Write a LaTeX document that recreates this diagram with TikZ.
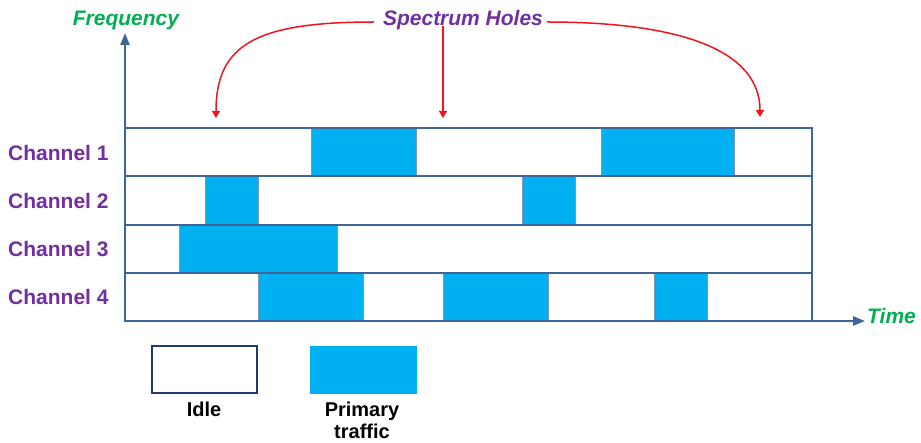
\documentclass[tikz,border=0pt]{standalone}
\usepackage{fontspec}
\setmainfont{Liberation Sans}
\usetikzlibrary{arrows.meta}
\definecolor{axisblue}{HTML}{3F6496}
\definecolor{cellline}{HTML}{7F98BA}
\definecolor{busy}{HTML}{00B0F0}
\definecolor{chanpurple}{HTML}{7030A0}
\definecolor{axisgreen}{HTML}{00B050}
\definecolor{holered}{HTML}{F0141E}
\definecolor{idleborder}{HTML}{1F3A6E}
\tikzset{
  axisline/.style={draw=axisblue, line width=2.4pt, -{Triangle[length=12pt,width=9pt]}},
  rowbox/.style={draw=axisblue, line width=2pt, fill=white},
  busybox/.style={fill=busy, draw=cellline, line width=1pt},
  chanlabel/.style={anchor=west, inner sep=0pt, text=chanpurple, font=\fontsize{21}{22}\selectfont\bfseries},
  axislabel/.style={inner sep=0pt, text=axisgreen, font=\fontsize{21}{22}\selectfont\bfseries\itshape},
  holelabel/.style={inner sep=0pt, text=chanpurple, font=\fontsize{21}{22}\selectfont\bfseries\itshape},
  legendtext/.style={inner sep=0pt, align=center, font=\fontsize{20}{21.5}\selectfont\bfseries},
  holearrow/.style={draw=holered, line width=1.5pt, -{Triangle[length=7pt,width=8pt]}}
}
\begin{document}
\begin{tikzpicture}[x=1pt, y=-1pt]
  \useasboundingbox (0,0) rectangle (921,443);

  % channel rows
  \foreach \top/\bot in {128/176.5, 176.5/225, 225/273, 273/321}
    \draw[rowbox] (125,\top) rectangle (812,\bot);

  % occupied intervals
  \draw[busybox] (311,128) rectangle (416,176.5);
  \draw[busybox] (601,128) rectangle (734,176.5);
  \draw[busybox] (205,176.5) rectangle (258,225);
  \draw[busybox] (522,176.5) rectangle (575,225);
  \draw[busybox] (179,225) rectangle (337,273);
  \draw[busybox] (258,273) rectangle (363,321);
  \draw[busybox] (443,273) rectangle (548,321);
  \draw[busybox] (654,273) rectangle (707,321);

  % re-stroke the row outlines over the fills
  \foreach \top/\bot in {128/176.5, 176.5/225, 225/273, 273/321}
    \draw[draw=axisblue, line width=2pt] (125,\top) rectangle (812,\bot);

  % axes
  \coordinate (origin) at (125,321);
  \coordinate (ftip) at (125,33);
  \coordinate (ttip) at (865,321);
  \draw[axisline] (origin) -- (ftip);
  \draw[axisline] (origin) -- (ttip);

  \node[axislabel] (freq) at (126,20) {Frequency};
  \node[axislabel, anchor=west] (time) at (867,316) {Time};

  % channel names
  \node[chanlabel] (ch1) at (8,153) {Channel 1};
  \node[chanlabel] (ch2) at (8,201) {Channel 2};
  \node[chanlabel] (ch3) at (8,249) {Channel 3};
  \node[chanlabel] (ch4) at (8,297) {Channel 4};

  % spectrum holes callout
  \node[holelabel] (holes) at (463,20) {Spectrum Holes};
  \coordinate (holeA) at (216,118);
  \coordinate (holeB) at (443,118);
  \coordinate (holeC) at (760,117);
  \draw[holearrow] ([xshift=-9pt,yshift=-2pt]holes.west) .. controls (255,22) and (216,45) .. (holeA);
  \draw[holearrow] (holeB |- holes.south) ++(0,-4) -- (holeB);
  \draw[holearrow] ([xshift=4pt,yshift=-2pt]holes.east) .. controls (680,22) and (760,50) .. (holeC);

  % legend
  \node[draw=idleborder, line width=2pt, fill=white, minimum width=105pt, minimum height=47pt, inner sep=0pt] (idlekey) at (204.5,370) {};
  \node[fill=busy, minimum width=107pt, minimum height=48pt, inner sep=0pt] (busykey) at (363.5,370) {};
  \node[legendtext, anchor=north] (idletext) at (204,402) {Idle};
  \node[legendtext, anchor=north] (busytext) at (362,402) {Primary\\traffic};
\end{tikzpicture}
\end{document}
